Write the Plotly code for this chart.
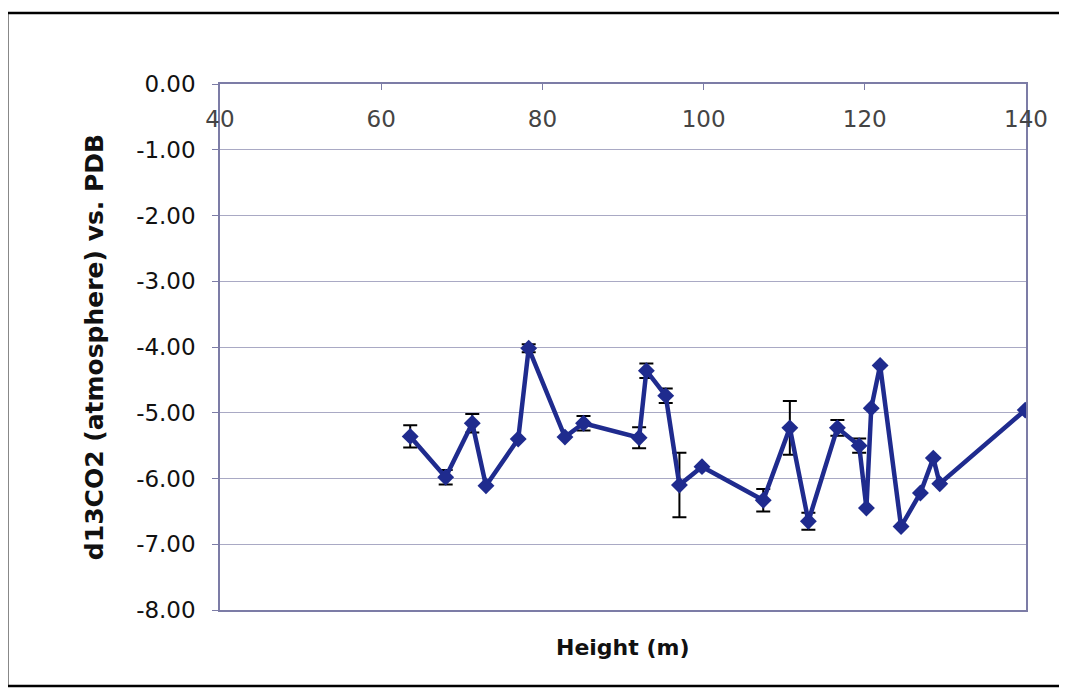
import plotly.graph_objects as go

height_m = [63.6, 68.0, 71.3, 73.0, 77.0, 78.3, 82.8, 85.1, 92.0, 92.9, 95.3, 97.0, 99.8,
            107.4, 110.7, 113.0, 116.6, 119.3, 120.2, 120.8, 121.9, 124.5, 126.9, 128.5,
            129.3, 139.9]
d13co2 = [-5.36, -5.98, -5.16, -6.11, -5.40, -4.02, -5.37, -5.16, -5.38, -4.36, -4.74,
          -6.10, -5.82, -6.33, -5.23, -6.65, -5.23, -5.50, -6.45, -4.93, -4.28, -6.73,
          -6.22, -5.69, -6.08, -4.96]
err = [0.17, 0.11, 0.14, None, None, 0.06, None, 0.11, 0.16, 0.11, 0.11, 0.49, None,
       0.17, 0.41, 0.13, 0.12, 0.11, None, None, None, None, None, None, None, None]

x_ticks = [40, 60, 80, 100, 120, 140]
y_ticks = [0, -1, -2, -3, -4, -5, -6, -7, -8]
y_labels = ["0.00", "-1.00", "-2.00", "-3.00", "-4.00", "-5.00", "-6.00", "-7.00", "-8.00"]

navy = "#1f2b8e"
axis_col = "#7c7ca6"
grid_col = "#a9a9c4"
font_fam = "DejaVu Sans, Verdana, sans-serif"

fig = go.Figure()
fig.add_trace(go.Scatter(
    x=height_m, y=d13co2, mode="lines+markers",
    line=dict(color=navy, width=4.5),
    marker=dict(symbol="diamond", size=13, color=navy),
    error_y=dict(type="data", array=err, visible=True, color="black", thickness=2, width=7),
    showlegend=False,
))

fig.update_layout(
    width=1067, height=688,
    margin=dict(l=212, r=49, t=76, b=86),
    paper_bgcolor="white", plot_bgcolor="white",
    font=dict(family=font_fam, size=23, color="#111111"),
    xaxis=dict(
        range=[40, 140], tickvals=x_ticks, side="top",
        ticks="inside", ticklen=6, tickcolor=axis_col,
        ticklabelposition="inside", ticklabeloverflow="allow", ticklabelstandoff=23,
        showline=True, linecolor=axis_col, linewidth=1.5, mirror=True,
        showgrid=False, zeroline=False,
        tickfont=dict(size=23),
        title=None,
    ),
    yaxis=dict(
        range=[-8, 0], tickvals=y_ticks, ticktext=y_labels,
        ticks="outside", ticklen=6, tickcolor=axis_col, ticklabelstandoff=12,
        showline=True, linecolor=axis_col, linewidth=1.5, mirror=True,
        showgrid=True, gridcolor=grid_col, gridwidth=1,
        zeroline=False,
        tickfont=dict(size=23),
        title=dict(text="<b>d13CO2 (atmosphere) vs. PDB</b>", font=dict(size=25), standoff=25),
    ),
    annotations=[dict(
        text="<b>Height (m)</b>", xref="paper", yref="paper", x=0.5, y=-0.072,
        xanchor="center", yanchor="middle", showarrow=False, font=dict(size=22),
    )],
    shapes=[dict(
        type="rect", xref="paper", yref="paper",
        x0=-0.264, x1=1.07, y0=-0.1445, y1=1.135,
        line=dict(color="black", width=2.5), fillcolor="rgba(0,0,0,0)", layer="below",
    )],
)

fig.write_html("out.html")
